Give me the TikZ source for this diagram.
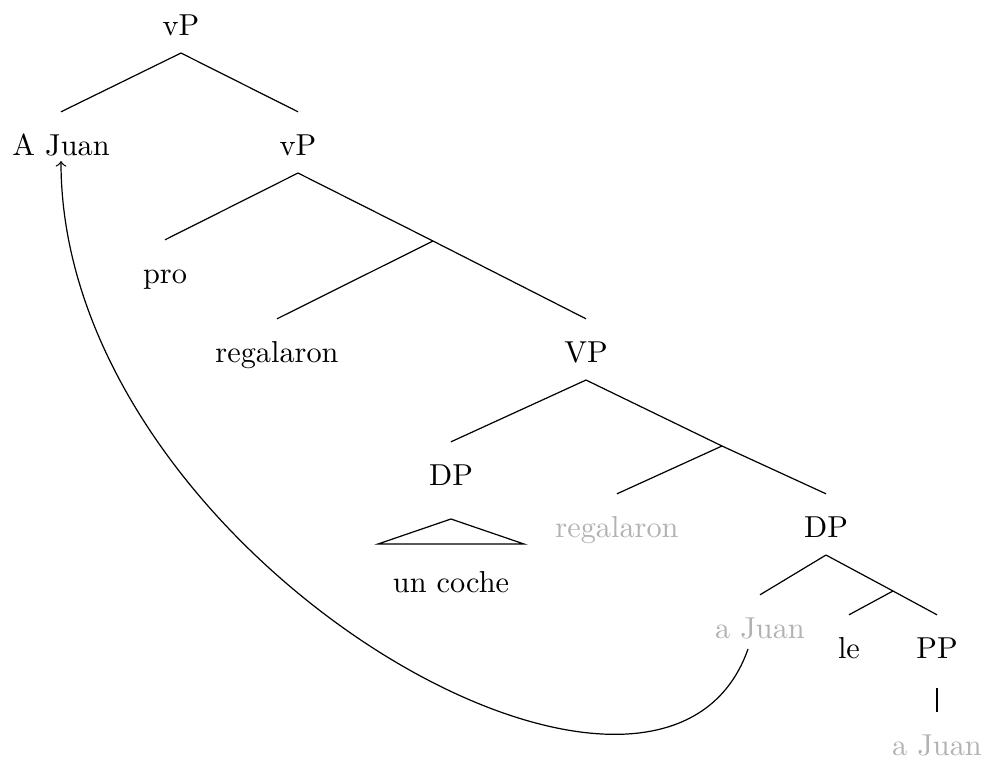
\documentclass[tikz,border=0pt]{standalone}
\usepackage{amsfonts,amsmath,amssymb}

\tikzset{
    ord/.style={inner xsep=2pt, inner ysep=4.65pt, text height=9.5pt, text depth=1pt, yshift=0.3mm},
    spor/.style={ord, text=black!30}
}

\begin{document}
\begin{tikzpicture}[x=0.0116cm,y=-0.0116cm]
    \useasboundingbox (0,0) rectangle (990,762);

    %Noder
        \node[ord] (vP) at (181,25) {vP};
        \node[ord] (AJuan) at (61,145) {A Juan};
        \node[ord] (vPto) at (298,145) {vP};
        \node[ord] (pro) at (165,273) {pro};
        \node[ord] (reg) at (277,352) {regalaron};
        \node[ord] (VP) at (586,352) {VP};
        \node[ord] (DPen) at (451,475) {DP};
        \node[ord] (coche) at (451,582) {un coche};
        \node[spor] (regspor) at (617,527) {regalaron};
        \node[ord] (DPto) at (826,527) {DP};
        \node[spor] (aJuan) at (760,628) {a Juan};
        \node[ord] (le) at (849,648) {le};
        \node[ord] (PP) at (937,648) {PP};
        \node[spor] (aJuanPP) at (937,745) {a Juan};

    %Greiner
        \coordinate (vbar) at (433,241);
        \coordinate (Vbar) at (722,446);
        \coordinate (Dbar) at (893,591);
        \coordinate (topp) at (451,519);

        \draw (vP.south) -- (AJuan.north);
        \draw (vP.south) -- (vPto.north);

        \draw (vPto.south) -- (pro.north);
        \draw (vPto.south) -- (vbar) -- (VP.north);
        \draw (vbar) -- (reg.north);

        \draw (VP.south) -- (DPen.north);
        \draw (VP.south) -- (Vbar) -- (DPto.north);
        \draw (Vbar) -- (regspor.north);

        \draw (DPto.south) -- (aJuan.north);
        \draw (DPto.south) -- (Dbar) -- (PP.north);
        \draw (Dbar) -- (le.north);

        \draw ([shift={(0,12)}]PP.south) -- (aJuanPP.north);

        \draw (topp) -- ++(-73,25) -- ++(146,0) -- cycle;

    %Pil
        \draw[->] ([shift={(-12,-7)}]aJuan.south) .. controls (660,900) and (61,555) .. ([shift={(0,-12)}]AJuan.south);

\end{tikzpicture}
\end{document}
